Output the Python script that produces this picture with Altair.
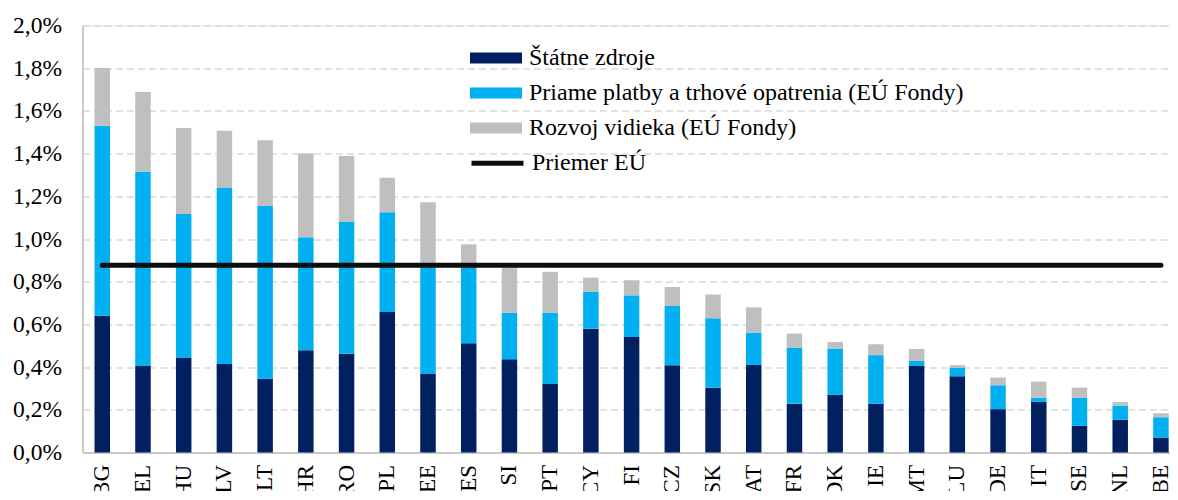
import altair as alt
import pandas as pd

countries = ["BG", "EL", "HU", "LV", "LT", "HR", "RO", "PL", "EE", "ES", "SI", "PT", "CY",
             "FI", "CZ", "SK", "AT", "FR", "DK", "IE", "MT", "LU", "DE", "IT", "SE", "NL", "BE"]
# segment heights (in %)
statne = [0.640, 0.405, 0.445, 0.415, 0.346, 0.479, 0.462, 0.658, 0.370, 0.512, 0.437, 0.321, 0.580,
          0.541, 0.409, 0.303, 0.410, 0.228, 0.270, 0.229, 0.405, 0.357, 0.203, 0.237, 0.125, 0.154, 0.070]
priame = [0.890, 0.910, 0.672, 0.824, 0.809, 0.529, 0.618, 0.467, 0.505, 0.373, 0.217, 0.333, 0.172,
          0.195, 0.277, 0.326, 0.152, 0.264, 0.217, 0.227, 0.024, 0.039, 0.112, 0.020, 0.131, 0.066, 0.095]
rozvoj = [0.271, 0.373, 0.403, 0.268, 0.308, 0.393, 0.309, 0.162, 0.297, 0.090, 0.213, 0.192, 0.067,
          0.071, 0.089, 0.111, 0.118, 0.065, 0.031, 0.051, 0.056, 0.013, 0.036, 0.075, 0.048, 0.016, 0.019]
priemer_eu = 0.877

series_names = ["Štátne zdroje",
                "Priame platby a trhové opatrenia (EÚ Fondy)",
                "Rozvoj vidieka (EÚ Fondy)"]
series_colors = ["#002060", "#00B0F0", "#BFBFBF"]
line_name = "Priemer EÚ"
y_ticks = [0.0, 0.2, 0.4, 0.6, 0.8, 1.0, 1.2, 1.4, 1.6, 1.8, 2.0]

rows = []
for i, c in enumerate(countries):
    for k, (name, vals) in enumerate(zip(series_names, [statne, priame, rozvoj])):
        rows.append({"Krajina": c, "Zložka": name, "Hodnota": vals[i], "poradie": k})
bars_df = pd.DataFrame(rows)
line_df = pd.DataFrame({"Krajina": countries, "Hodnota": [priemer_eu] * len(countries),
                        "Séria": [line_name] * len(countries)})

FONT = "Liberation Serif"

x_enc = alt.X("Krajina:N", sort=countries, title=None,
              scale=alt.Scale(paddingInner=0.62, paddingOuter=0.164, align=0.9),
              axis=alt.Axis(labelAngle=-90, labelFont=FONT, labelFontSize=23, labelColor="black",
                            labelPadding=12, ticks=False, domainColor="#BFBFBF", domainWidth=1.5,
                            labelBaseline="middle", labelAlign="right"))

y_scale = alt.Scale(domain=[0, 2.0], nice=False)

legend_common = dict(title=None, orient="none", labelFont=FONT, labelFontSize=24,
                     labelColor="black", labelOffset=21, padding=0, labelLimit=600)

bars = alt.Chart(bars_df).mark_bar().encode(
    x=x_enc,
    y=alt.Y("Hodnota:Q", stack="zero", scale=y_scale, title=None,
            axis=alt.Axis(values=y_ticks,
                          labelExpr="replace(format(datum.value, '.1f'), '.', ',') + '%'",
                          labelFont=FONT, labelFontSize=23.5, labelColor="black",
                          labelPadding=21, ticks=False, domainColor="#BFBFBF", domainWidth=1.5,
                          grid=True, gridColor="#D9D9D9", gridDash=[7, 4], gridWidth=1.3,
                          minExtent=66.5, maxExtent=66.5)),
    fill=alt.Fill("Zložka:N", scale=alt.Scale(domain=series_names, range=series_colors),
                  legend=alt.Legend(legendX=401.5, legendY=20.5,
                                    symbolType="M-2.364,-0.5H2.364V0.5H-2.364Z", symbolSize=484,
                                    symbolStrokeWidth=0, rowPadding=11, **legend_common)),
    order=alt.Order("poradie:Q", sort="ascending"),
)

line = alt.Chart(line_df).mark_line(strokeWidth=5, strokeCap="round").encode(
    x=alt.X("Krajina:N", sort=countries),
    y=alt.Y("Hodnota:Q", scale=y_scale),
    stroke=alt.Stroke("Séria:N", scale=alt.Scale(domain=[line_name], range=["#0D0D0D"]),
                      legend=alt.Legend(legendX=401.5, legendY=124.2,
                                        symbolType="M-2.364,0H2.364", symbolSize=484,
                                        symbolStrokeWidth=5, **legend_common)),
)

chart = alt.layer(bars, line).properties(
    width=1087.5, height=427,
    autosize=alt.AutoSizeParams(type="none"),
    padding={"left": 74.5, "top": 17.5, "right": 0, "bottom": 38},
).configure_view(stroke=None).configure(background="white")

chart.save("out.html", embed_options={"renderer": "svg", "actions": False})
